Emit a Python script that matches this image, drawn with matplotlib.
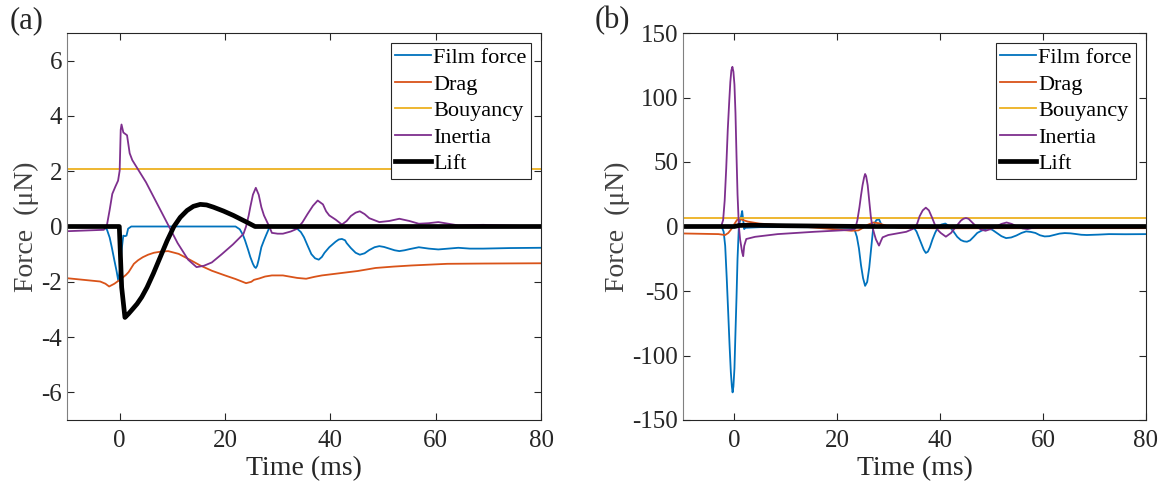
import matplotlib
matplotlib.use("Agg")
import matplotlib.pyplot as plt

plt.rcParams['font.family'] = ['Liberation Serif', 'DejaVu Serif']
plt.rcParams['axes.unicode_minus'] = False

# ---- panel (a) data (time in ms, force in uN) ----
a_film_t = [-10, -3, -2.4, -1.9, -1.5, -1.0, -0.6, -0.26, 0.1, 0.4, 0.69, 1.0, 1.3, 1.6, 2.2, 5, 15, 22, 22.8, 23.4, 23.8,
            24.4, 24.8, 25.3, 25.6, 25.85, 26.1, 26.4, 26.9, 27.4, 27.9, 28.4, 29.0, 29.6, 32, 33.7, 34.4, 35, 35.7,
            36.4, 37.1, 37.8, 38.4, 38.9, 39.8, 41.0, 41.6, 42.2, 42.8, 43.1, 43.9, 44.8, 45.6, 46.5, 47.4, 48.4,
            49.3, 50.2, 51.2, 52.2, 53.1, 54.1, 55.0, 56.8, 58.7, 60.5, 62.4, 64.3, 66.5, 69, 74, 80]
a_film_f = [0, 0, -0.12, -0.4, -0.75, -1.23, -1.6, -1.96, -1.5, -0.8, -0.33, -0.35, -0.33, -0.08, 0, 0, 0, 0, -0.1,
            -0.3, -0.5, -0.85, -1.1, -1.35, -1.46, -1.5, -1.42, -1.2, -0.75, -0.5, -0.27, -0.05, 0, 0, 0, -0.08, -0.2,
            -0.39, -0.7, -1.0, -1.15, -1.2, -1.1, -0.95, -0.75, -0.55, -0.47, -0.45, -0.5, -0.6, -0.78, -0.95, -1.02,
            -0.97, -0.85, -0.75, -0.71, -0.74, -0.8, -0.86, -0.89, -0.86, -0.82, -0.75, -0.8, -0.83, -0.8, -0.77,
            -0.8, -0.8, -0.78, -0.77]

a_drag_t = [-10, -3.7, -2.7, -2, -1, 0.3, 1.2, 1.7, 2.7, 3.5, 4.4, 5.4, 6.5, 7.8, 9.2, 11.2, 13.3, 15.3, 17.5, 20, 22,
            24, 25.0, 25.5, 26.5, 27.6, 28.9, 31, 32.5, 33.7, 35.4, 37, 38.4, 41.8, 45.2, 48.6, 52, 55.4, 62.2, 69, 80]
a_drag_f = [-1.87, -1.99, -2.07, -2.17, -2.07, -1.89, -1.75, -1.65, -1.35, -1.22, -1.11, -1.02, -0.95, -0.91, -0.89,
            -0.99, -1.2, -1.41, -1.6, -1.77, -1.9, -2.05, -2.0, -1.93, -1.88, -1.81, -1.77, -1.77, -1.82, -1.86, -1.89,
            -1.82, -1.77, -1.69, -1.61, -1.5, -1.45, -1.41, -1.35, -1.34, -1.33]

a_buoy = 2.08

a_inert_t = [-10, -3, -2.4, -1.9, -1.4, -0.8, -0.3, 0, 0.2, 0.35, 0.7, 1.4, 1.9, 2.4, 5, 8, 11, 13, 14.6, 16, 17.5,
             19.4, 21.5, 23.5, 24.0, 24.5, 24.8, 25.3, 25.85, 26.4, 26.9, 27.4, 27.9, 28.4, 28.9, 30, 31, 32.5, 33.7,
             34.7, 35.7, 36.7, 37.6, 38.6, 39.2, 39.8, 41.0, 42.2, 43.1, 43.9, 44.8, 45.6, 46.5, 47.4, 49.3, 51.2,
             53.1, 55.0, 56.8, 58.7, 60.5, 62.4, 64.3, 69, 80]
a_inert_f = [-0.17, -0.12, 0.07, 0.6, 1.18, 1.45, 1.66, 2.02, 3.5, 3.69, 3.4, 3.3, 2.65, 2.4, 1.6, 0.5, -0.6, -1.2,
             -1.47, -1.42, -1.3, -1.0, -0.65, -0.27, 0.0, 0.4, 0.7, 1.15, 1.4, 1.15, 0.7, 0.4, 0.2, 0.0, -0.23, -0.26,
             -0.26, -0.18, -0.08, 0.15, 0.46, 0.75, 0.94, 0.8, 0.55, 0.4, 0.25, 0.07, 0.2, 0.38, 0.5, 0.55, 0.45, 0.3,
             0.16, 0.2, 0.28, 0.2, 0.1, 0.12, 0.16, 0.1, 0.04, 0.06, 0]

a_lift_t = [-10, -0.07, 0.38, 1.0, 1.67, 2.4, 3.3, 4.2, 5.2, 6.4, 7.7, 9.0, 10.3, 11.5, 12.8, 14.0, 15.3, 16.5, 17.8,
            19.7, 21.6, 24.1, 25.7, 80]
a_lift_f = [0, 0, -2.2, -3.29, -3.16, -3.0, -2.8, -2.55, -2.2, -1.7, -1.11, -0.52, 0, 0.33, 0.58, 0.73, 0.8, 0.78, 0.7,
            0.56, 0.4, 0.16, 0, 0]

# ---- panel (b) data ----
b_film_t = [-10, -2.5, -2.1, -1.8, -1.5, -1.2, -0.95, -0.7, -0.5, -0.36, -0.2, 0.0, 0.2, 0.4, 0.6, 0.86, 1.1, 1.3,
            1.5, 1.7, 1.9, 2.1, 5, 15, 22.8, 23.4, 23.8, 24.2, 24.6, 25.0, 25.4, 25.8, 26.2, 26.6, 27.0, 27.3, 27.6,
            28.1, 28.5, 28.8, 30, 34.9, 35.4, 35.9, 36.4, 36.8, 37.2, 37.6, 38.0, 38.5, 39.0, 39.5, 40.2, 41.0, 41.8,
            42.6, 43.3, 44.0, 44.6, 45.2, 45.8, 46.5, 47.2, 48.0, 49.2, 50.1, 51.0, 51.9, 52.8, 53.8, 54.8, 55.8,
            56.7, 57.6, 58.5, 59.4, 60.3, 61.2, 62.2, 63.2, 64.2, 65.3, 66.3, 67.4, 68.5, 70.7, 72.8, 76, 80]
b_film_f = [0, 0, -4, -15, -40, -68, -92, -113, -124, -128.6, -124, -110, -82, -55, -25, 0, 5, 8, 12, 5, -2, -1, -0.5,
            -0.5, -1, -3, -8, -17, -30, -40, -46, -43, -32, -16, 0, 3, 5, 5.6, 2, 0, -0.5, -1, -4, -9, -14, -18, -20.5,
            -19.5, -16, -10, -5, -1, 1.5, 2.3, 0, -4, -8, -10.5, -11.5, -11.8, -10.8, -8, -5, -3.3, -1.5, -2.5, -5,
            -7.5, -9, -8.5, -7, -5, -3.8, -4.2, -5, -6.8, -7.7, -7.5, -6.5, -5.5, -5.1, -5.3, -5.8, -6.4, -6.6, -6.3,
            -5.9, -6.0, -5.9]

b_drag_t = [-10, -3.1, -1.8, -1.2, -0.6, 0, 0.5, 1.2, 2.6, 4.8, 8, 15.5, 19.1, 22.7, 24.1, 25.0, 25.9, 27.0, 28.1, 29.5,
            32, 40, 60, 80]
b_drag_f = [-5.4, -5.9, -6.6, -5.0, -2.0, 2.0, 5.1, 5.6, 3.8, 2.3, 1.3, -0.8, -2.0, -3.3, -3.0, -1.0, 1.3, 3.1, 2.5,
            0.5, -1.0, -1.4, -1.3, -1.3]

b_buoy = 6.5

b_inert_t = [-10, -2.6, -2.2, -1.9, -1.6, -1.3, -1.0, -0.8, -0.6, -0.4, -0.2, 0.0, 0.2, 0.4, 0.6, 0.86, 1.1, 1.3, 1.5,
             1.7, 1.9, 2.3, 4, 8.4, 15.5, 22.7, 23.5, 23.9, 24.3, 24.6, 24.9, 25.2, 25.4, 25.6, 25.9, 26.2, 26.5, 26.8,
             27.2, 27.5, 28.1, 28.5, 28.8, 29.9, 33.4, 34.9, 35.5, 36.0, 36.6, 37.2, 37.8, 38.4, 39.1, 39.6, 40.1,
             41.1, 42.1, 43.1, 43.6, 44.0, 44.5, 45.0, 45.5, 46.0, 47.0, 48.0, 48.8, 49.8, 50.9, 51.9, 52.9, 53.9,
             54.9, 56.0, 57.0, 58.0, 59.0, 61.0, 64, 70, 80]
b_inert_f = [-0.2, -0.2, 5, 20, 45, 75, 98, 112, 121, 123.8, 120, 110, 88, 55, 25, 0, -10, -15, -20, -23, -15, -9.7, -8,
             -5.9, -4.1, -2.6, -1.5, 5, 15, 24, 32, 38, 40.7, 39, 32, 20, 8, 0, -6, -10, -14.8, -11, -8.4, -6.6, -4.1,
             -1.5, 2, 8, 12.5, 14.6, 12.5, 7, 0, -3, -5, -7.9, -5, 0, 2.5, 4.5, 6, 6.6, 6, 4, 0, -2.5, -3.3, -2, 0, 2,
             3.1, 2, 0, -1.5, -2, -1, -0.5, 0.5, 0, 0.2, 0]

b_lift_t = [-10, 0.0, 0.9, 3, 10, 20, 26, 80]
b_lift_f = [0, 0, 0.8, 1.0, 0.6, 0.2, 0, 0]

names = ['Film force', 'Drag', 'Bouyancy', 'Inertia', 'Lift']
colors = ['#0072BD', '#D95319', '#EDB120', '#7E2F8E', 'black']

fig = plt.figure(figsize=(11.72, 4.95), dpi=100)
ax1 = fig.add_axes([67 / 1172, 75 / 495, 474 / 1172, 387 / 495])
ax2 = fig.add_axes([683 / 1172, 75 / 495, 463 / 1172, 387 / 495])


def draw(ax, film, drag, buoy, inert, lift, ylim, yticks):
    ax.plot(film[0], film[1], color=colors[0], lw=1.3, label=names[0])
    ax.plot(drag[0], drag[1], color=colors[1], lw=1.3, label=names[1])
    ax.plot([-10, 80], [buoy, buoy], color=colors[2], lw=1.3, label=names[2])
    ax.plot(inert[0], inert[1], color=colors[3], lw=1.3, label=names[3])
    ax.plot(lift[0], lift[1], color=colors[4], lw=3.4, label=names[4])
    ax.set_xlim(-10, 80)
    ax.set_ylim(*ylim)
    ax.set_xticks([0, 20, 40, 60, 80])
    ax.set_yticks(yticks)
    ax.tick_params(direction='in', length=5, width=0.8, labelsize=18, top=True, right=True, colors='#262626')
    ax.tick_params(axis='x', pad=7)
    for s in ax.spines.values():
        s.set_color('#262626')
        s.set_linewidth(0.8)
    ax.spines['left'].set_color('#808080')
    ax.set_xlabel('Time (ms)', fontsize=20, labelpad=3, color='#262626')
    ax.set_ylabel('Force  (μN)', fontsize=20, labelpad=2, color='#404040')
    leg = ax.legend(loc='upper right', fontsize=16, handlelength=1.6, handletextpad=0.1,
                    borderaxespad=0.45, borderpad=0.2, labelspacing=0.27, fancybox=False, framealpha=1)
    leg.get_frame().set_edgecolor('#262626')
    leg.get_frame().set_linewidth(0.8)


draw(ax1, (a_film_t, a_film_f), (a_drag_t, a_drag_f), a_buoy, (a_inert_t, a_inert_f), (a_lift_t, a_lift_f),
     (-7, 7), [-6, -4, -2, 0, 2, 4, 6])
draw(ax2, (b_film_t, b_film_f), (b_drag_t, b_drag_f), b_buoy, (b_inert_t, b_inert_f), (b_lift_t, b_lift_f),
     (-150, 150), [-150, -100, -50, 0, 50, 100, 150])

fig.text(10 / 1172, 1 - 28 / 495, '(a)', fontsize=22, color='#262626')
fig.text(595 / 1172, 1 - 28 / 495, '(b)', fontsize=22, color='#262626')

fig.savefig('out.png', dpi=100)
